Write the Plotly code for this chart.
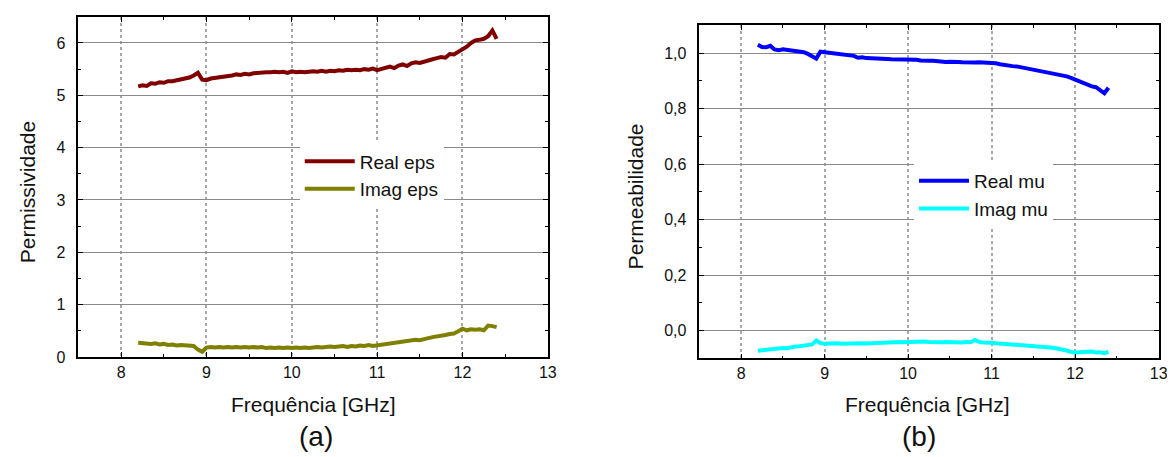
import plotly.graph_objects as go

# ---------------- data ----------------
freq = [8.20, 8.25, 8.30, 8.35, 8.40, 8.45, 8.50, 8.55, 8.60, 8.65, 8.70, 8.75, 8.80, 8.85, 8.90, 8.95,
        9.00, 9.05, 9.10, 9.15, 9.20, 9.25, 9.30, 9.35, 9.40, 9.45, 9.50, 9.55, 9.60, 9.65, 9.70, 9.75,
        9.80, 9.85, 9.90, 9.95, 10.00, 10.05, 10.10, 10.15, 10.20, 10.25, 10.30, 10.35, 10.40, 10.45,
        10.50, 10.55, 10.60, 10.65, 10.70, 10.75, 10.80, 10.85, 10.90, 10.95, 11.00, 11.05, 11.10, 11.15,
        11.20, 11.25, 11.30, 11.35, 11.40, 11.45, 11.50, 11.55, 11.60, 11.65, 11.70, 11.75, 11.80, 11.85,
        11.90, 11.95, 12.00, 12.05, 12.10, 12.15, 12.20, 12.25, 12.30, 12.35, 12.40]

real_eps = [5.17, 5.19, 5.18, 5.23, 5.22, 5.25, 5.24, 5.27, 5.27, 5.29, 5.31, 5.32, 5.34, 5.38, 5.43, 5.30,
            5.29, 5.32, 5.33, 5.35, 5.36, 5.37, 5.38, 5.40, 5.39, 5.41, 5.40, 5.42, 5.43, 5.43, 5.44, 5.44,
            5.45, 5.44, 5.45, 5.43, 5.46, 5.44, 5.45, 5.44, 5.45, 5.46, 5.45, 5.47, 5.45, 5.47,
            5.46, 5.48, 5.47, 5.49, 5.48, 5.49, 5.48, 5.50, 5.49, 5.51, 5.48, 5.51, 5.53, 5.55,
            5.52, 5.57, 5.59, 5.56, 5.61, 5.63, 5.62, 5.65, 5.67, 5.69, 5.71, 5.73, 5.72, 5.79,
            5.78, 5.83, 5.87, 5.93, 6.00, 6.05, 6.06, 6.08, 6.13, 6.24, 6.08]

imag_eps = [0.27, 0.26, 0.26, 0.25, 0.26, 0.24, 0.25, 0.23, 0.24, 0.22, 0.23, 0.22, 0.22, 0.21, 0.14, 0.10,
            0.18, 0.19, 0.18, 0.19, 0.18, 0.19, 0.18, 0.19, 0.18, 0.19, 0.18, 0.19, 0.18, 0.19, 0.17, 0.18,
            0.17, 0.18, 0.17, 0.18, 0.17, 0.18, 0.17, 0.18, 0.17, 0.18, 0.19, 0.18, 0.19, 0.20,
            0.19, 0.20, 0.21, 0.19, 0.21, 0.20, 0.22, 0.21, 0.23, 0.21, 0.22, 0.24, 0.25, 0.26,
            0.27, 0.28, 0.30, 0.30, 0.31, 0.33, 0.32, 0.35, 0.36, 0.38, 0.39, 0.40, 0.42, 0.44,
            0.45, 0.49, 0.54, 0.51, 0.53, 0.52, 0.53, 0.51, 0.60, 0.59, 0.57]

real_mu = [1.030, 1.022, 1.021, 1.026, 1.013, 1.010, 1.014, 1.012, 1.008, 1.006, 1.005, 1.003, 0.997, 0.990, 0.980, 1.005,
           1.003, 0.999, 0.998, 0.996, 0.994, 0.993, 0.989, 0.990, 0.983, 0.985, 0.982, 0.982, 0.980, 0.980, 0.979, 0.979,
           0.978, 0.978, 0.977, 0.978, 0.977, 0.976, 0.976, 0.973, 0.974, 0.972, 0.972, 0.970, 0.971, 0.968,
           0.969, 0.967, 0.968, 0.967, 0.966, 0.968, 0.966, 0.967, 0.966, 0.965, 0.966, 0.963, 0.960, 0.957,
           0.956, 0.953, 0.952, 0.949, 0.947, 0.945, 0.942, 0.940, 0.937, 0.934, 0.931, 0.928, 0.924, 0.920,
           0.916, 0.911, 0.905, 0.898, 0.890, 0.884, 0.880, 0.877, 0.866, 0.855, 0.875]

imag_mu = [-0.073, -0.071, -0.070, -0.068, -0.067, -0.066, -0.063, -0.064, -0.060, -0.058, -0.057, -0.054, -0.052, -0.050, -0.036, -0.045,
           -0.048, -0.047, -0.048, -0.046, -0.048, -0.047, -0.046, -0.048, -0.047, -0.046, -0.047, -0.046, -0.045, -0.044, -0.043, -0.042,
           -0.043, -0.042, -0.041, -0.042, -0.041, -0.041, -0.042, -0.041, -0.040, -0.041, -0.042, -0.041, -0.042, -0.041,
           -0.042, -0.041, -0.042, -0.043, -0.041, -0.042, -0.034, -0.041, -0.043, -0.042, -0.044, -0.046, -0.047, -0.049,
           -0.048, -0.051, -0.052, -0.054, -0.053, -0.055, -0.056, -0.057, -0.058, -0.059, -0.061, -0.063, -0.065, -0.068,
           -0.072, -0.077, -0.080, -0.078, -0.077, -0.075, -0.076, -0.079, -0.078, -0.082, -0.077]

x_ticks = [8, 9, 10, 11, 12, 13]
eps_ticks = [0, 1, 2, 3, 4, 5, 6]
mu_ticks = [0.0, 0.2, 0.4, 0.6, 0.8, 1.0]
mu_ticklabels = ["0,0", "0,2", "0,4", "0,6", "0,8", "1,0"]

# ---------------- figure ----------------
W, H = 1175, 457
FONT = "Liberation Sans, Arial, sans-serif"
TXT = "#111111"

fig = go.Figure()
fig.add_trace(go.Scatter(x=freq, y=real_eps, name="Real eps", mode="lines",
                         line=dict(color="#800000", width=4), xaxis="x", yaxis="y", legend="legend"))
fig.add_trace(go.Scatter(x=freq, y=imag_eps, name="Imag eps", mode="lines",
                         line=dict(color="#808000", width=4), xaxis="x", yaxis="y", legend="legend"))
fig.add_trace(go.Scatter(x=freq, y=real_mu, name="Real mu", mode="lines",
                         line=dict(color="#0000ff", width=4), xaxis="x2", yaxis="y2", legend="legend2"))
fig.add_trace(go.Scatter(x=freq, y=imag_mu, name="Imag mu", mode="lines",
                         line=dict(color="#00ffff", width=4), xaxis="x2", yaxis="y2", legend="legend2"))


def px_x(p):
    return p / W


def px_y(p):
    return 1 - p / H


xcommon = dict(range=[7.5, 13], tickvals=x_ticks, ticks="inside", ticklen=5, tickwidth=1.3,
               tickcolor="#000", showline=True, linecolor="#000", linewidth=1.5, mirror="allticks",
               showgrid=True, gridcolor="#a8a8a8", gridwidth=2, griddash="dot", zeroline=False,
               minor=dict(dtick=0.5, ticks="inside", ticklen=3, tickwidth=1.2, tickcolor="#000",
                          showgrid=False),
               tickfont=dict(family=FONT, size=16, color=TXT), ticklabelstandoff=0)
ycommon = dict(ticks="inside", ticklen=5, tickwidth=1.3, tickcolor="#000", showline=True,
               linecolor="#000", linewidth=1.5, mirror="allticks", showgrid=True,
               gridcolor="#8a8a8a", gridwidth=1, zeroline=False,
               tickfont=dict(family=FONT, size=16, color=TXT), ticklabelstandoff=8)

fig.update_layout(
    width=W, height=H, margin=dict(l=0, r=0, t=0, b=0),
    paper_bgcolor="white", plot_bgcolor="white",
    font=dict(family=FONT, color=TXT),
    xaxis=dict(domain=[px_x(71), px_x(544)], anchor="y", **xcommon),
    yaxis=dict(domain=[px_y(356), px_y(9)], anchor="x", range=[0, 6.5], tickvals=eps_ticks,
               minor=dict(dtick=0.5, ticks="inside", ticklen=3, tickwidth=1.2, tickcolor="#000",
                          showgrid=False),
               **ycommon),
    xaxis2=dict(domain=[px_x(696.7), px_x(1159.5)], anchor="y2", **xcommon),
    yaxis2=dict(domain=[px_y(357.3), px_y(17.7)], anchor="x2", range=[-0.1, 1.1],
                tickvals=mu_ticks, ticktext=mu_ticklabels,
                minor=dict(dtick=0.1, ticks="inside", ticklen=3, tickwidth=1.2, tickcolor="#000",
                           showgrid=False),
                **ycommon),
    legend=dict(x=px_x(294), y=px_y(137), xanchor="left", yanchor="top", bgcolor="white",
                borderwidth=0, font=dict(family=FONT, size=19, color=TXT), itemwidth=50,
                tracegroupgap=0),
    legend2=dict(x=px_x(913), y=px_y(157), xanchor="left", yanchor="top", bgcolor="white",
                 borderwidth=0, font=dict(family=FONT, size=19, color=TXT), itemwidth=50,
                 tracegroupgap=0),
    showlegend=True,
)

annots = [
    dict(text="Frequência [GHz]", x=px_x(307.5), y=px_y(404), font=dict(size=21)),
    dict(text="Frequência [GHz]", x=px_x(927), y=px_y(404), font=dict(size=21)),
    dict(text="(a)", x=px_x(310), y=px_y(437), font=dict(size=28)),
    dict(text="(b)", x=px_x(918), y=px_y(437), font=dict(size=28)),
    dict(text="Permissividade", x=px_x(19.5), y=px_y(187.5), textangle=-90, font=dict(size=21)),
    dict(text="Permeabilidade", x=px_x(632), y=px_y(192), textangle=-90, font=dict(size=21)),
]
for a in annots:
    a.update(xref="paper", yref="paper", showarrow=False, xanchor="center", yanchor="middle")
    a["font"].update(family=FONT, color=TXT)
    fig.add_annotation(**a)

fig.write_html("out.html")
